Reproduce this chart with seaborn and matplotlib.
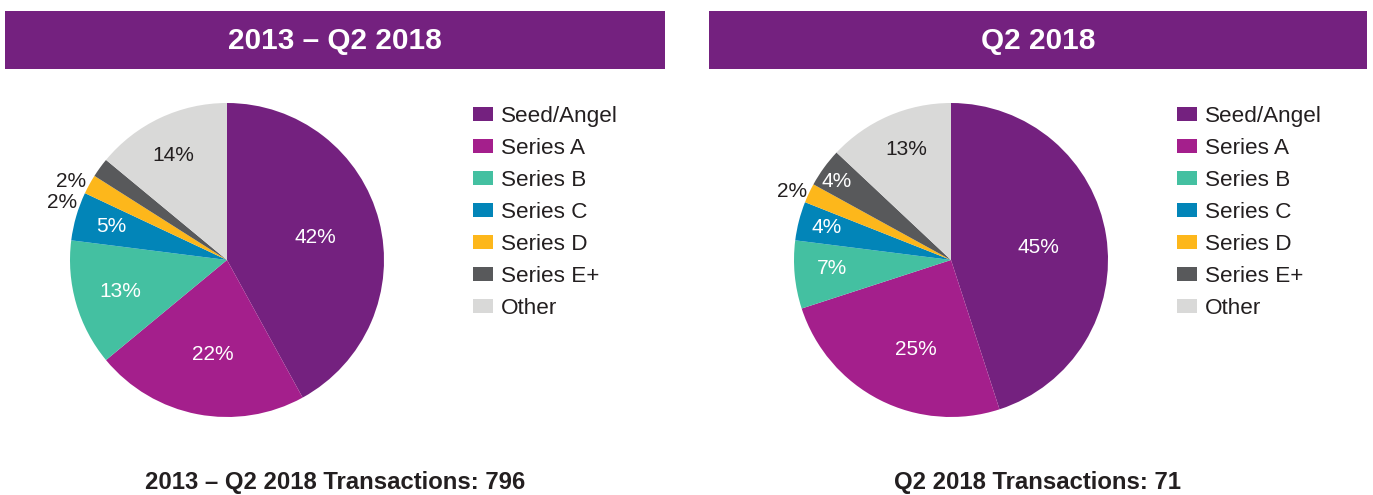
import numpy as np
import matplotlib
matplotlib.use("Agg")
import matplotlib.pyplot as plt
import seaborn as sns
from matplotlib.patches import Rectangle

# funding stages and their share of transactions (%)
stages = ["Seed/Angel", "Series A", "Series B", "Series C", "Series D", "Series E+", "Other"]
share_all = [42, 22, 13, 5, 2, 2, 14]
share_q2 = [45, 25, 7, 4, 2, 4, 13]
titles = ["2013 – Q2 2018", "Q2 2018"]
footers = ["2013 – Q2 2018 Transactions: 796", "Q2 2018 Transactions: 71"]

sns.set_theme(style="white")
plt.rcParams["font.family"] = ["Liberation Sans", "DejaVu Sans"]

purple = "#74217f"
dark = "#231f20"
colors = sns.color_palette(["#74217f", "#a41f8c", "#44c0a1", "#0285b8",
                            "#fdb71b", "#58595b", "#d9d9d8"])

# label placement per slice: (radius fraction, angle nudge in degrees, text colour)
label_left = [(0.58, 0, "white"), (0.61, 2, "white"), (0.71, 0, "white"), (0.77, 0, "white"),
              (1.115, 9.6, dark), (1.115, 9.2, dark), (0.75, 2, dark)]
label_right = [(0.56, -1, "white"), (0.61, 5.5, "white"), (0.76, -1.5, "white"), (0.82, 0, "white"),
               (1.10, 2, dark), (0.88, 1.6, "white"), (0.76, -1.4, dark)]

W, H = 1373, 495
fig = plt.figure(figsize=(W / 100, H / 100), dpi=100)


def draw_pie(values, cx, labels_fmt, header_x0, header_x1, title, footer):
    r = 157
    ax = fig.add_axes([(cx - r) / W, (H - 260 - r) / H, 2 * r / W, 2 * r / H])
    wedges, _ = ax.pie(values, colors=colors, startangle=90, counterclock=False,
                       wedgeprops=dict(linewidth=0))
    ax.set_xlim(-1, 1)
    ax.set_ylim(-1, 1)
    ax.set_aspect("equal")
    ax.axis("off")
    for w, v, (rf, nudge, col) in zip(wedges, values, labels_fmt):
        mid = np.deg2rad((w.theta1 + w.theta2) / 2 + nudge)
        ax.text(rf * np.cos(mid), rf * np.sin(mid), f"{v}%", ha="center", va="center",
                color=col, fontsize=15, clip_on=False)

    fig.add_artist(Rectangle((header_x0 / W, (H - 69) / H), (header_x1 - header_x0) / W, 58 / H,
                             transform=fig.transFigure, color=purple, lw=0))
    xc = (header_x0 + header_x1) / 2 / W
    fig.text(xc, 1 - 41 / H, title, ha="center", va="center", color="white",
             fontsize=21.4, fontweight="bold")
    fig.text(xc, 1 - 482 / H, footer, ha="center", va="center", color=dark,
             fontsize=17.2, fontweight="bold")
    return wedges


wl = draw_pie(share_all, 227, label_left, 5, 665, titles[0], footers[0])
wr = draw_pie(share_q2, 951, label_right, 709, 1367, titles[1], footers[1])

for x_anchor in (473, 1177):
    fig.legend(wl, stages, loc="upper left", bbox_to_anchor=(x_anchor / W, 1 - 106 / H),
               frameon=False, fontsize=16.2, handlelength=0.9, handleheight=0.58,
               handletextpad=0.36, labelspacing=0.49, borderpad=0, borderaxespad=0,
               labelcolor=dark)

fig.savefig("out.png", dpi=100)
